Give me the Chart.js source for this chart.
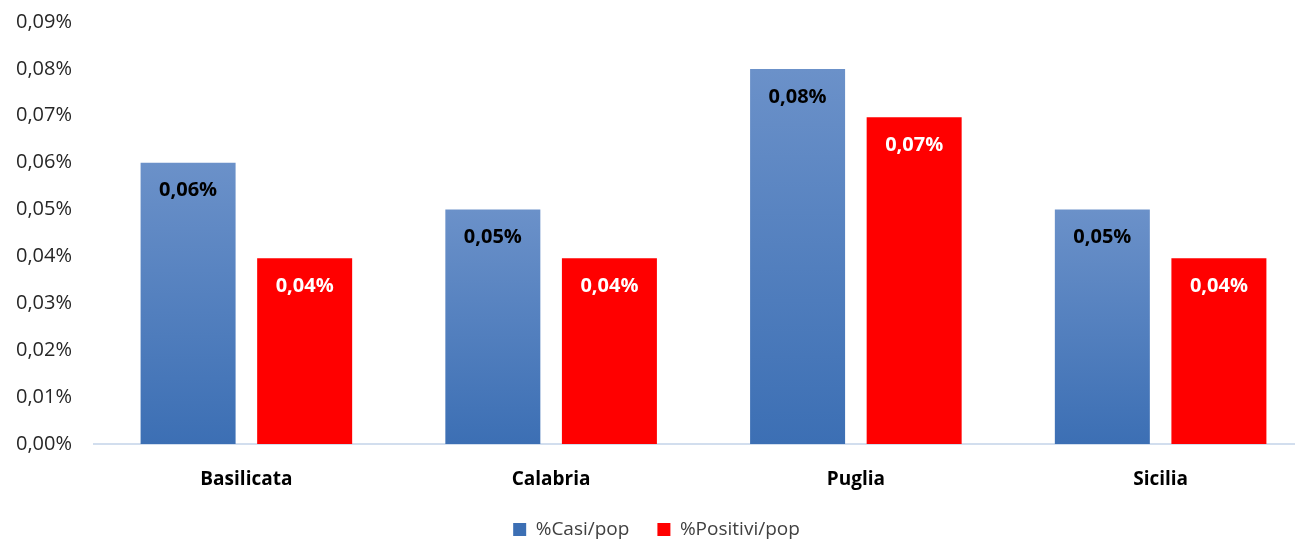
<!DOCTYPE html>
<html>
<head>
<meta charset="utf-8">
<script src="https://cdn.jsdelivr.net/npm/chart.js@4/dist/chart.umd.min.js"></script>
<style>
  html, body { margin: 0; padding: 0; background: #fff; overflow: hidden; }
  /* canvas is a bit larger than the window: plot and legend run past the edges like the original */
  #wrap { width: 1344px; height: 549px; position: relative; }
</style>
</head>
<body>
<div id="wrap"><canvas id="chart"></canvas></div>
<script>
// data (values in %)
const regions = ['Basilicata', 'Calabria', 'Puglia', 'Sicilia'];
const casiPop = [0.06, 0.05, 0.08, 0.05];
const positiviPop = [0.0396, 0.0396, 0.0697, 0.0396];
const seriesNames = ['%Casi/pop', '%Positivi/pop'];
const yTicks = [0, 0.01, 0.02, 0.03, 0.04, 0.05, 0.06, 0.07, 0.08, 0.09];

const FONT = "'Open Sans', 'DejaVu Sans', sans-serif";
const fmt = v => v.toFixed(2).replace('.', ',') + '%';

// per-bar vertical gradient, lighter on top like the Excel original
function blueFill(c) {
  const y = c.chart.scales.y;
  if (!y || c.raw === undefined) return '#4a7bbf';
  const top = y.getPixelForValue(c.raw);
  const bot = y.getPixelForValue(0);
  if (!isFinite(top) || !isFinite(bot)) return '#4a7bbf';
  const g = c.chart.ctx.createLinearGradient(0, top, 0, bot);
  g.addColorStop(0, '#6b91c9');
  g.addColorStop(1, '#3c6fb4');
  return g;
}

// value labels drawn inside the top of each bar
const barLabels = {
  id: 'barLabels',
  afterDatasetsDraw(chart) {
    const ctx = chart.ctx;
    ctx.save();
    ctx.font = 'bold 20px ' + FONT;
    ctx.textAlign = 'center';
    ctx.textBaseline = 'middle';
    chart.data.datasets.forEach((ds, i) => {
      const meta = chart.getDatasetMeta(i);
      ctx.fillStyle = i === 0 ? '#000000' : '#ffffff';
      meta.data.forEach((el, j) => {
        ctx.fillText(fmt(ds.data[j]), el.x, el.y + 28);
      });
    });
    ctx.restore();
  }
};

new Chart(document.getElementById('chart'), {
  type: 'bar',
  data: {
    labels: regions,
    datasets: [
      { label: seriesNames[0], data: casiPop, backgroundColor: blueFill, borderWidth: 0 },
      { label: seriesNames[1], data: positiviPop, backgroundColor: '#ff0000', borderWidth: 0 }
    ]
  },
  options: {
    responsive: true,
    maintainAspectRatio: false,
    animation: false,
    layout: { padding: { top: 22, right: 31, bottom: 0, left: 0 } },
    categoryPercentage: 0.765,
    barPercentage: 0.815,
    plugins: {
      tooltip: { enabled: false },
      legend: {
        position: 'bottom',
        labels: {
          boxWidth: 13,
          boxHeight: 13,
          padding: 28,
          color: '#404040',
          font: { family: FONT, size: 19 }
        }
      }
    },
    scales: {
      x: {
        afterFit: s => { s.height = 48; },
        grid: { display: false, drawTicks: false },
        border: { display: true, color: '#d2deee', width: 2 },
        ticks: { color: '#000', padding: 24, font: { family: FONT, size: 19, weight: 'bold' } }
      },
      y: {
        min: 0,
        max: 0.09,
        afterBuildTicks: s => { s.ticks = yTicks.map(v => ({ value: v })); },
        afterFit: s => { s.width = 94; s.paddingTop = 0; s.paddingBottom = 0; },
        grid: { display: false, drawTicks: false },
        border: { display: false },
        ticks: {
          color: '#262626',
          padding: 22,
          font: { family: FONT, size: 20 },
          callback: v => fmt(v)
        }
      }
    }
  },
  plugins: [barLabels]
});
</script>
</body>
</html>
